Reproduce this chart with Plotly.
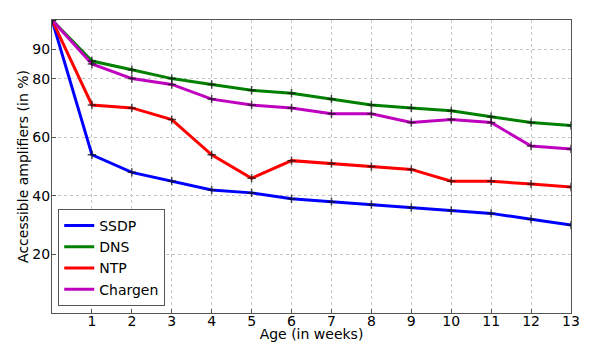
import plotly.graph_objects as go

weeks = list(range(0, 14))
ssdp = [100, 54, 48, 45, 42, 41, 39, 38, 37, 36, 35, 34, 32, 30]
dns = [100, 86, 83, 80, 78, 76, 75, 73, 71, 70, 69, 67, 65, 64]
ntp = [100, 71, 70, 66, 54, 46, 52, 51, 50, 49, 45, 45, 44, 43]
chargen = [100, 85, 80, 78, 73, 71, 70, 68, 68, 65, 66, 65, 57, 56]

series = [("SSDP", ssdp, "#0000ff"),
          ("DNS", dns, "#008000"),
          ("NTP", ntp, "#ff0000"),
          ("Chargen", chargen, "#bf00bf")]

fig = go.Figure()
for name, vals, col in series:
    fig.add_trace(go.Scatter(x=weeks, y=vals, name=name, mode="lines",
                             line=dict(color=col, width=3)))
# '+' markers drawn separately so the legend shows plain lines
for name, vals, col in series:
    fig.add_trace(go.Scatter(x=weeks, y=vals, mode="markers", showlegend=False,
                             hoverinfo="skip",
                             marker=dict(symbol="cross-thin", size=6,
                                         line=dict(color="rgba(20,20,20,0.75)", width=1.5))))

axis_common = dict(showline=True, linecolor="#555555", linewidth=1.3, mirror=True,
                   showgrid=True, gridcolor="#c4c4c4", griddash="dot", gridwidth=1,
                   zeroline=False, ticks="inside", ticklen=4, tickcolor="#555555",
                   automargin=False, tickfont=dict(size=14, color="black"))

# page body has an 8px margin, so the figure is sized/offset to fit the window
fig.update_layout(
    width=582, height=334,
    margin=dict(l=44, r=19, t=12, b=29),
    paper_bgcolor="white", plot_bgcolor="white",
    font=dict(family="DejaVu Sans", size=14, color="black"),
    showlegend=True,
    legend=dict(x=0.012, y=0.024, xanchor="left", yanchor="bottom",
                bordercolor="#555555", borderwidth=1, bgcolor="white",
                font=dict(size=14), tracegroupgap=0),
    xaxis=dict(range=[0, 13], tickvals=list(range(1, 14)), ticklabelstandoff=-5,
               title=dict(text="Age (in weeks)", standoff=2, font=dict(size=14)),
               **axis_common),
    yaxis=dict(range=[0, 100], tickvals=[20, 40, 60, 80, 90], ticklabelstandoff=-2,
               title=dict(text="Accessible amplifiers (in %)", standoff=0, font=dict(size=14)),
               **axis_common),
)

fig.write_html("out.html")
